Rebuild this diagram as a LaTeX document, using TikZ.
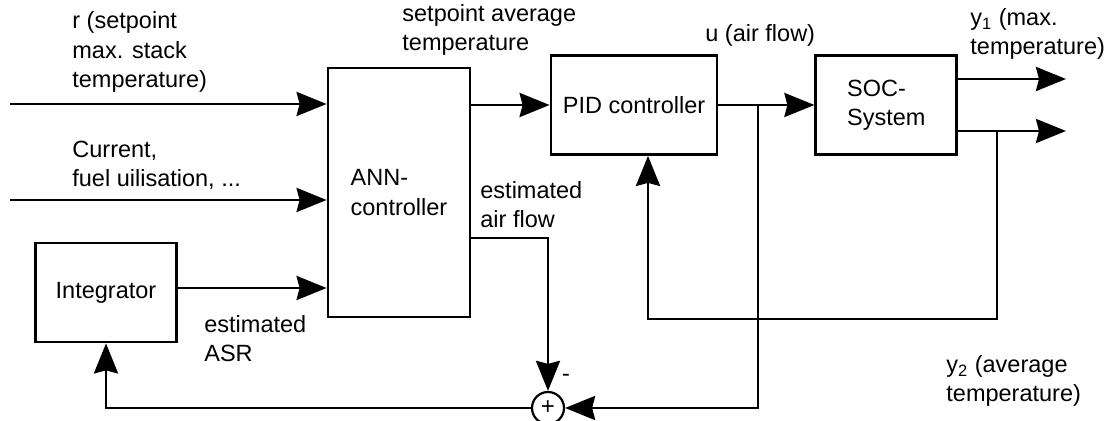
\documentclass[tikz,border=0pt]{standalone}
\usepackage{fontspec}
\setmainfont{Liberation Sans}
\usetikzlibrary{arrows.meta, positioning}
\tikzstyle{block} = [rectangle, draw=black, line width=1.4pt, inner sep=0pt,
                     minimum height=49.5pt, align=left]
\tikzstyle{arrow} = [-{Stealth[length=15pt, width=12pt, inset=1.5pt]}, line width=1.4pt]
\tikzstyle{sumpt} = [circle, draw=black, line width=1.1pt, minimum size=16pt,
                     inner sep=0pt, font=\fontsize{12}{12}\selectfont]
\tikzstyle{sig}   = [inner sep=0pt, anchor=base west, align=left]

\begin{document}
\begin{tikzpicture}[x=0.5pt, y=-0.5pt, font=\fontsize{11.75}{14.75}\selectfont]
  \useasboundingbox (0,0) rectangle (1109,421);

  \node[block, minimum width=71pt, minimum height=124.5pt] (ann) at (399,192.5) {ANN-\\controller};
  \node[block, minimum width=83pt]   (pid)   at (634,105) {PID controller};
  \node[block, minimum width=70.5pt, right=48pt of pid] (soc) {SOC-\\System};
  \node[block, minimum width=70.5pt] (integ) at (106,292.5) {Integrator};
  \node[sumpt] (sum) at (548,408) {+};

  % text nodes: base = baseline of last line
  \node[sig] (rlab)   at (72,88)   {r (setpoint\\max. stack\\temperature)};
  \node[sig] (curlab) at (72,187)  {Current,\\fuel uilisation, ...};
  \node[sig] (splab)  at (402,51)  {setpoint average\\temperature};
  \node[sig] (ulab)   at (705,42)  {u (air flow)};
  \node[sig] (y1lab)  at (970,55)  {y\textsubscript{1} (max.\\temperature)};
  \node[sig] (aflab)  at (480,228) {estimated\\air flow};
  \node[sig] (asrlab) at (204,362) {estimated\\ASR};
  \node[sig] (y2lab)  at (946,402) {y\textsubscript{2} (average\\temperature)};
  \node (minus) at (566,378) {-};

  \coordinate (rin)   at (10,104);
  \coordinate (curin) at (10,200);
  \coordinate (ubr)   at (758,105);
  \coordinate (y1)    at (1066,79);
  \coordinate (y2)    at (1066,131);
  \coordinate (ybr)   at (997,131);
  \coordinate (fb)    at (648,319);

  \draw[arrow] (rin)   -- (rin -| ann.west);
  \draw[arrow] (curin) -- (curin -| ann.west);
  \draw[arrow] ([yshift=2.25pt]integ.east) -- ([yshift=2.25pt]integ.east -| ann.west);
  \draw[arrow] (ann.east |- pid.west) -- (pid.west);
  \draw[arrow] (pid.east) -- (soc.west);
  \draw[arrow] (ubr) |- (sum.east);
  \draw[arrow] ([yshift=-22.75pt]ann.east) -| (sum.north);
  \draw[arrow] (sum.west) -| (integ.south);
  \draw[arrow] (soc.east |- y1) -- (y1);
  \draw[arrow] (soc.east |- y2) -- (y2);
  \draw[arrow] (ybr) |- (fb) -- (fb |- pid.south);
\end{tikzpicture}
\end{document}
